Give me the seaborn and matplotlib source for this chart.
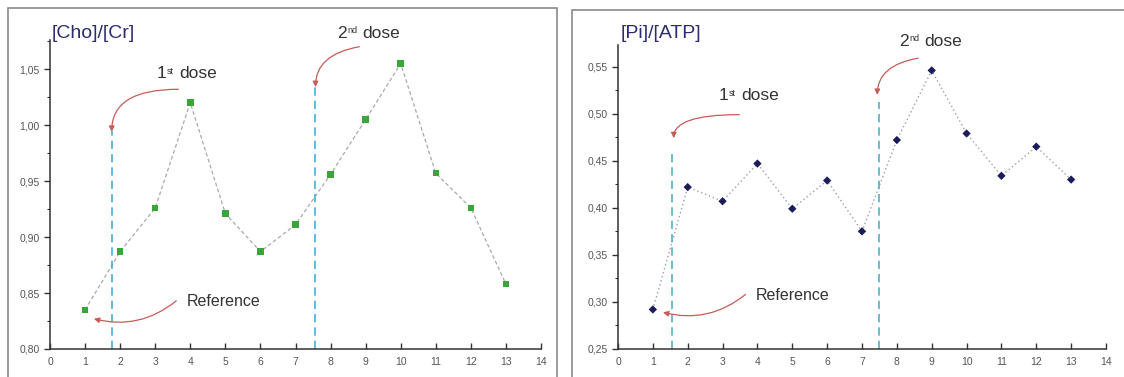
import numpy as np
import pandas as pd
import matplotlib
matplotlib.use('Agg')
import matplotlib.pyplot as plt
import matplotlib.ticker as mticker
from matplotlib.patches import Rectangle
import seaborn as sns

sns.set_style('white')
plt.rcParams['font.family'] = ['Liberation Sans', 'DejaVu Sans']

# measurements (exam number 1..13)
exam = [1, 2, 3, 4, 5, 6, 7, 8, 9, 10, 11, 12, 13]
cho_cr = [0.835, 0.887, 0.926, 1.020, 0.921, 0.887, 0.911, 0.956, 1.005, 1.055, 0.957, 0.926, 0.858]
pi_atp = [0.292, 0.422, 0.407, 0.447, 0.399, 0.429, 0.375, 0.472, 0.546, 0.479, 0.434, 0.465, 0.430]

# dose markers: (x, top of dashed line)
cho_doses = [(1.76, 0.995), (7.57, 1.034)]
pi_doses = [(1.56, 0.460), (7.49, 0.512)]

df = pd.DataFrame({'exam': exam, 'cho': cho_cr, 'pi': pi_atp})

fig = plt.figure(figsize=(11.24, 3.77), dpi=100)

# panel frames
fig.patches.append(Rectangle((8 / 1124, -0.05), 549 / 1124, 1.05 - 8 / 377,
                             transform=fig.transFigure, fill=False,
                             edgecolor='#8a8a8a', lw=1.2))
fig.patches.append(Rectangle((572 / 1124, -0.05), 0.6, 1.05 - 10 / 377,
                             transform=fig.transFigure, fill=False,
                             edgecolor='#8a8a8a', lw=1.2))

ax1 = fig.add_axes([50 / 1124, 28 / 377, 491 / 1124, 309 / 377])
ax2 = fig.add_axes([618 / 1124, 28 / 377, 488 / 1124, 304 / 377])


def comma(v, pos):
    return f'{v:.2f}'.replace('.', ',')


def style_axis(ax, ylo, yhi):
    ax.set_xlim(0, 14)
    ax.set_ylim(ylo, yhi)
    sns.despine(ax=ax)
    for s in ['left', 'bottom']:
        ax.spines[s].set_color('#333333')
        ax.spines[s].set_linewidth(1.1)
    ax.xaxis.set_major_locator(mticker.MultipleLocator(1))
    ax.yaxis.set_major_locator(mticker.MultipleLocator(0.05))
    ax.yaxis.set_minor_locator(mticker.MultipleLocator(0.025))
    ax.yaxis.set_major_formatter(mticker.FuncFormatter(comma))
    ax.tick_params(axis='y', which='major', direction='out', length=4, width=1,
                   labelsize=7.5, labelcolor='#555555', color='#333333', left=True)
    ax.tick_params(axis='y', which='minor', direction='out', length=2, width=0.8,
                   color='#333333', left=True)
    ax.tick_params(axis='x', which='major', direction='in', length=4, width=1,
                   labelsize=7.5, labelcolor='#555555', color='#333333', bottom=True, pad=6)
    ax.set_xlabel('')
    ax.set_ylabel('')


def arrow(ax, start, end, conn):
    ax.annotate('', xy=end, xytext=start,
                arrowprops=dict(arrowstyle='-|>', color='#c85a5a', lw=0.9,
                                mutation_scale=8, shrinkA=0, shrinkB=0,
                                connectionstyle=conn))


def dose_label(ax, x, y, nr, sup):
    t = ax.text(x, y, nr, fontsize=12.5, color='#333333', va='center', clip_on=False)
    s = ax.annotate(sup, xy=(1, 0.5), xycoords=t, xytext=(0.3, 0), textcoords='offset points',
                    fontsize=6.5, color='#333333', va='baseline', ha='left')
    ax.annotate('dose', xy=(1, 0.5), xycoords=(s, t), xytext=(3.5, 0),
                textcoords='offset points', fontsize=12.5, color='#333333',
                va='center', ha='left')


# left panel
sns.lineplot(data=df, x='exam', y='cho', ax=ax1, color='#aaaaaa', lw=0.9,
             linestyle=(0, (3, 2)))
sns.scatterplot(data=df, x='exam', y='cho', ax=ax1, marker='s', s=22,
                color='#3aa63a', edgecolor='none', zorder=3)
for x, top in cho_doses:
    ax1.plot([x, x], [0.80, top], color='#45b0dc', lw=1.2, linestyle=(0, (5, 3)))
style_axis(ax1, 0.80, 1.076)
dose_label(ax1, 3.05, 1.046, '1', 'st')
dose_label(ax1, 8.18, 1.082, '2', 'nd')
ax1.text(3.91, 0.842, 'Reference', fontsize=11.5, color='#333333', va='center')
arrow(ax1, (3.66, 1.032), (1.76, 0.994), 'angle3,angleA=0,angleB=90')
arrow(ax1, (8.82, 1.070), (7.57, 1.034), 'angle3,angleA=10,angleB=90')
arrow(ax1, (3.60, 0.843), (1.25, 0.827), 'arc3,rad=-0.25')
fig.text(52 / 1124, 1 - 33 / 377, '[Cho]/[Cr]', fontsize=14, color='#2c2c70', va='center')

# right panel
sns.lineplot(data=df, x='exam', y='pi', ax=ax2, color='#9aa0b4', lw=1.0,
             linestyle=(0, (1, 2)))
sns.scatterplot(data=df, x='exam', y='pi', ax=ax2, marker='D', s=18,
                color='#1c1c5a', edgecolor='none', zorder=3)
for x, top in pi_doses:
    ax2.plot([x, x], [0.25, top], color='#55b0c4', lw=1.2, linestyle=(0, (5, 3)))
style_axis(ax2, 0.25, 0.573)
dose_label(ax2, 2.89, 0.519, '1', 'st')
dose_label(ax2, 8.07, 0.577, '2', 'nd')
ax2.text(3.96, 0.307, 'Reference', fontsize=11.5, color='#333333', va='center')
arrow(ax2, (3.48, 0.499), (1.60, 0.474), 'angle3,angleA=0,angleB=90')
arrow(ax2, (8.61, 0.559), (7.44, 0.520), 'angle3,angleA=10,angleB=90')
arrow(ax2, (3.66, 0.308), (1.29, 0.289), 'arc3,rad=-0.25')
fig.text(621 / 1124, 1 - 33 / 377, '[Pi]/[ATP]', fontsize=14, color='#2c2c70', va='center')

fig.savefig('out.png', dpi=100)
